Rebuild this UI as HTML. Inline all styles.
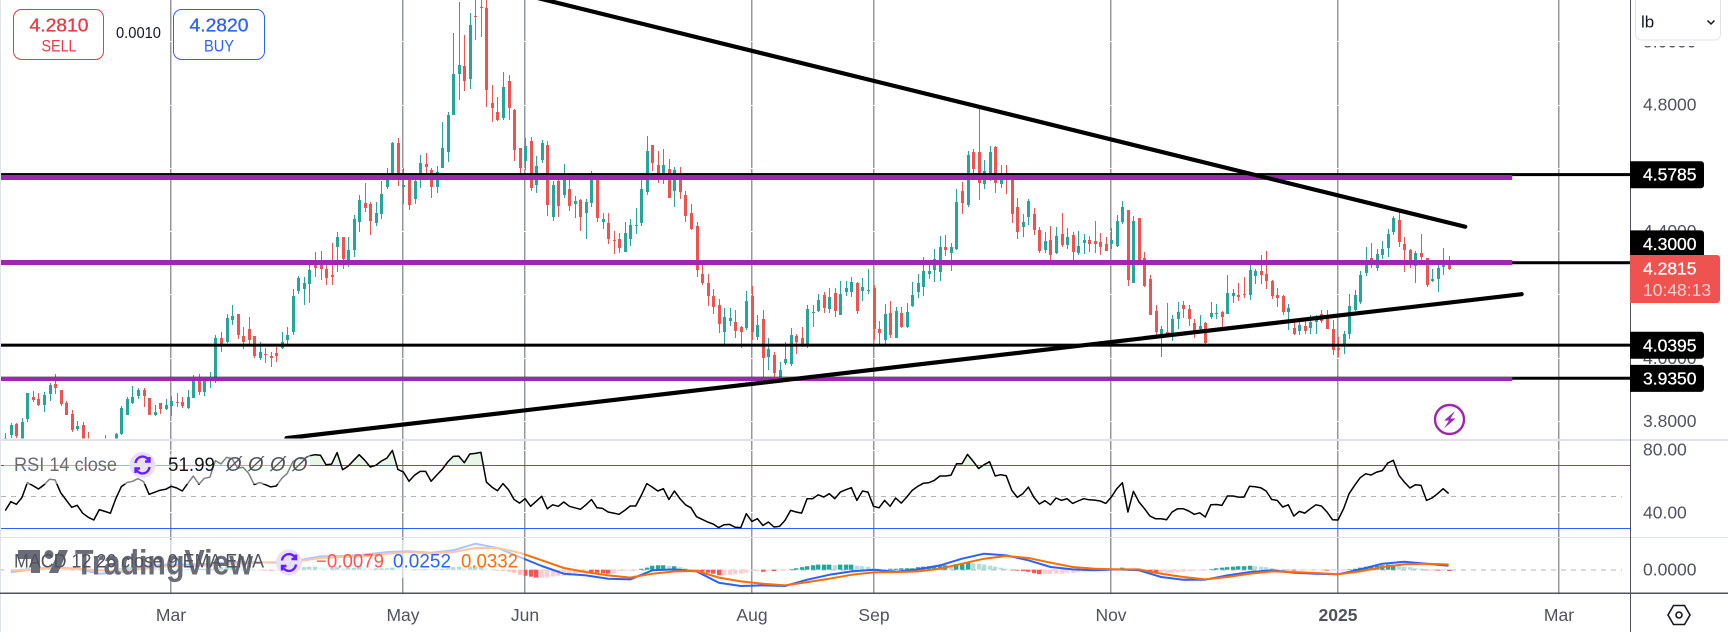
<!DOCTYPE html>
<html lang="en">
<head>
<meta charset="utf-8">
<title>Copper candlestick chart</title>
<style>
html,body{margin:0;padding:0;background:#fff;width:1728px;height:632px;overflow:hidden}
svg{display:block;font-family:"Liberation Sans",sans-serif}
text{white-space:pre}
</style>
</head>
<body>
<svg id="chart" xmlns="http://www.w3.org/2000/svg" width="1728" height="632" viewBox="0 0 1728 632">
  <defs>
    <clipPath id="price-clip"><rect x="1" y="0" width="1629" height="438.5"/></clipPath>
    <clipPath id="above-band"><rect x="1" y="441" width="1629" height="24.3"/></clipPath>
  </defs>
  <rect x="0" y="0" width="1728" height="632" fill="#fff"/>
  <g id="axis-labels-under"></g>
  <g id="vgrid"></g>
  <g id="hgrid"></g>
  <g id="candles" clip-path="url(#price-clip)"></g>
  <g id="levels" clip-path="url(#price-clip)"></g>
  <g id="trends" clip-path="url(#price-clip)"></g>
  <rect x="1" y="465" width="1629" height="1" fill="#2962ff"/>
  <rect x="1" y="528" width="1629" height="1" fill="#2962ff"/>
  <line x1="1" y1="496.5" x2="1622" y2="496.5" stroke="#b2b5be" stroke-width="1" stroke-dasharray="5 5"/>
  <line x1="1" y1="570" x2="1622" y2="570" stroke="#b2b5be" stroke-width="1" stroke-dasharray="5 5"/>
  <path id="rsi-fill" fill="#4caf50" fill-opacity="0.13" clip-path="url(#above-band)"/>
  <path id="rsi-line" fill="none" stroke="#000" stroke-width="1.5" stroke-linejoin="round"/>
  <g id="hist"></g>
  <path id="macd-line" fill="none" stroke="#2962ff" stroke-width="2" stroke-linejoin="round"/>
  <path id="signal-line" fill="none" stroke="#ff6d00" stroke-width="2" stroke-linejoin="round"/>

  <rect x="0" y="439" width="1728" height="2" fill="#e0e3eb"/>
  <rect x="0" y="537" width="1728" height="1" fill="#e0e3eb"/>
  <rect x="0" y="0" width="1" height="632" fill="#e0e3eb"/>

  <!-- RSI legend -->
  <rect x="4" y="454" width="306" height="30" fill="#fff" fill-opacity="0.5"/>
  <text x="14" y="465" font-size="19.5" fill="#6a6d78" dominant-baseline="central" textLength="103" lengthAdjust="spacingAndGlyphs">RSI 14 close</text>
  <circle cx="142.5" cy="465" r="13" fill="#e8e0fb"/>
  <g fill="none" stroke="#651fff" stroke-width="2.4">
    <path d="M135.5 463a7 7 0 0 1 13-3"/><path d="M149.5 467a7 7 0 0 1-13 3"/>
    <path d="M149.5 457v4.5h-4.5"/><path d="M135.5 473v-4.5h4.5"/>
  </g>
  <text x="168" y="465" font-size="19.5" fill="#131722" dominant-baseline="central" textLength="47" lengthAdjust="spacingAndGlyphs">51.99</text>
  <text x="226" y="465" font-size="20" font-style="italic" fill="#50535e" dominant-baseline="central">Ø</text>
  <text x="248" y="465" font-size="20" font-style="italic" fill="#50535e" dominant-baseline="central">Ø</text>
  <text x="270" y="465" font-size="20" font-style="italic" fill="#50535e" dominant-baseline="central">Ø</text>
  <text x="292" y="465" font-size="20" font-style="italic" fill="#50535e" dominant-baseline="central">Ø</text>

  <!-- Watermark + MACD legend -->
  <rect x="4" y="540" width="520" height="38" fill="#fff" fill-opacity="0.62"/>
  <g fill="#6a6d78">
    <path d="M18 550h22v23h-9v-14H18z"/><circle cx="49" cy="554.5" r="4.5"/><path d="M59 550h9l-10 23h-9z"/>
  </g>
  <text x="75" y="563" font-size="35" font-weight="bold" fill="#6a6d78" dominant-baseline="central" textLength="178" lengthAdjust="spacingAndGlyphs">TradingView</text>
  <text x="14" y="562" font-size="19" fill="#50535e" dominant-baseline="central" textLength="250" lengthAdjust="spacingAndGlyphs">MACD 12 26 close 9 EMA EMA</text>
  <circle cx="289" cy="562.5" r="13" fill="#e8e0fb"/>
  <g fill="none" stroke="#651fff" stroke-width="2.4">
    <path d="M282 560.5a7 7 0 0 1 13-3"/><path d="M296 564.5a7 7 0 0 1-13 3"/>
    <path d="M296 554.5v4.5h-4.5"/><path d="M282 570.5v-4.5h4.5"/>
  </g>
  <text x="316" y="562" font-size="19" fill="#ff5252" dominant-baseline="central" textLength="68" lengthAdjust="spacingAndGlyphs">−0.0079</text>
  <text x="393" y="562" font-size="19" fill="#2962ff" dominant-baseline="central" textLength="58" lengthAdjust="spacingAndGlyphs">0.0252</text>
  <text x="461" y="562" font-size="19" fill="#ff6d00" dominant-baseline="central" textLength="57" lengthAdjust="spacingAndGlyphs">0.0332</text>

  <!-- Sell / buy -->
  <rect x="13.5" y="9.5" width="90" height="50" rx="8" fill="#fff" stroke="#f23645" stroke-width="1"/>
  <text x="59" y="25.5" font-size="18" stroke="#f23645" stroke-width="0.3" fill="#f23645" text-anchor="middle" dominant-baseline="central" textLength="59" lengthAdjust="spacingAndGlyphs">4.2810</text>
  <text x="59" y="46" font-size="17" fill="#f23645" text-anchor="middle" dominant-baseline="central" textLength="35" lengthAdjust="spacingAndGlyphs">SELL</text>
  <text x="116" y="33.5" font-size="15.5" fill="#131722" dominant-baseline="central" textLength="45" lengthAdjust="spacingAndGlyphs">0.0010</text>
  <rect x="173.5" y="9.5" width="91" height="50" rx="8" fill="#fff" stroke="#2962ff" stroke-width="1"/>
  <text x="219" y="25.5" font-size="18" stroke="#2962ff" stroke-width="0.3" fill="#2962ff" text-anchor="middle" dominant-baseline="central" textLength="59" lengthAdjust="spacingAndGlyphs">4.2820</text>
  <text x="219" y="46" font-size="17" fill="#2962ff" text-anchor="middle" dominant-baseline="central" textLength="30" lengthAdjust="spacingAndGlyphs">BUY</text>

  <!-- Lightning badge -->
  <g>
    <circle cx="1449.5" cy="419.5" r="14.5" fill="#fff" stroke="#9c27b0" stroke-width="2.4"/>
    <path d="M1455 411l-11 9.5h5l-5 8 11.5-10h-5z" fill="#9c27b0"/>
  </g>

  <!-- Right axis furniture -->
  <rect x="1630" y="0" width="1" height="632" fill="#50535e"/>
  <rect x="0" y="592.5" width="1728" height="1.5" fill="#50535e"/>
  <g id="time-labels"></g>
  <g id="level-labels"></g>
  <g>
    <path d="M1630 255h87a3 3 0 0 1 3 3v42a3 3 0 0 1-3 3h-87z" fill="#ef5350"/>
    <text id="last-price" x="1643" y="268.5" font-size="17.5" stroke="#fff" stroke-width="0.3" fill="#fff" dominant-baseline="central"></text>
    <text x="1643" y="290" font-size="17.5" fill="#fff" fill-opacity="0.72" dominant-baseline="central">10:48:13</text>
  </g>
  <rect x="1632" y="0" width="96" height="46" fill="#fff"/>
  <g>
    <path d="M1635.5 0v34a6 6 0 0 0 6 6h73a6 6 0 0 0 6-6V0" fill="#fff" stroke="#e0e3eb"/>
    <text x="1641" y="22" font-size="17" fill="#131722" dominant-baseline="central">lb</text>
    <path d="M1707.5 20.5l3.5 3.5 3.5-3.5" fill="none" stroke="#131722" stroke-width="1.5"/>
  </g>
  <g fill="none" stroke="#131722" stroke-width="1.6">
    <path d="M1668 615l5.5-9.5h11l5.5 9.5-5.5 9.5h-11z"/>
    <circle cx="1679" cy="615" r="3"/>
  </g>
</svg>
<script>
// Candle values, in thousandths of a dollar per lb
const highs=[3762,3793,3793,3809,3888,3894,3888,3891,3920,3948,
3898,3863,3834,3800,3796,3765,3740,3733,3755,3740,
3762,3847,3875,3910,3904,3904,3872,3850,3857,3869,
3879,3888,3875,3898,3945,3948,3929,3954,4071,4081,
4138,4166,4138,4097,4128,4068,4049,4030,4018,4033,
4081,4097,4217,4258,4255,4293,4334,4337,4299,4362,
4397,4381,4381,4451,4514,4552,4492,4492,4558,4599,
4681,4694,4599,4577,4574,4640,4647,4599,4605,4744,
4776,5026,5124,5019,5089,5146,5146,5146,4861,4823,
4902,4893,4786,4662,4694,4697,4637,4688,4684,4558,
4561,4612,4561,4511,4501,4501,4590,4577,4457,4457,
4400,4394,4428,4438,4473,4561,4700,4672,4653,4659,
4628,4602,4602,4526,4485,4428,4293,4264,4217,4185,
4157,4157,4150,4100,4210,4226,4135,4150,4062,4018,
3986,4049,4094,4075,4097,4166,4166,4201,4207,4220,
4220,4242,4242,4255,4239,4252,4280,4229,4116,4169,
4179,4160,4160,4173,4239,4264,4318,4296,4343,4384,
4387,4362,4533,4555,4653,4659,4786,4624,4669,4669,
4609,4609,4561,4504,4454,4501,4473,4413,4397,4416,
4413,4457,4410,4397,4400,4391,4384,4432,4394,4381,
4410,4451,4495,4466,4447,4441,4334,4261,4166,4100,
4173,4135,4176,4179,4166,4122,4135,4112,4176,4169,
4147,4261,4217,4236,4255,4296,4280,4324,4337,4245,
4220,4198,4169,4112,4125,4125,4135,4135,4150,4150,
4119,4065,4084,4201,4214,4274,4349,4362,4343,4368,
4406,4447,4460,4381,4343,4337,4391,4315,4280,4296,
4346,4321];
const opens=[3724,3755,3790,3740,3806,3875,3869,3850,3885,3917,
3898,3857,3822,3774,3787,3740,3724,3686,3733,3702,
3724,3759,3819,3857,3879,3898,3872,3819,3857,3838,
3847,3860,3860,3841,3872,3929,3891,3929,3926,4062,
4049,4119,4138,4068,4090,4068,3999,4011,4005,4015,
4030,4056,4081,4210,4217,4233,4299,4299,4280,4261,
4349,4381,4293,4340,4428,4489,4485,4425,4454,4539,
4577,4678,4539,4561,4501,4577,4612,4593,4539,4599,
4650,4767,4896,4921,4880,5079,5108,5105,4805,4776,
4757,4874,4782,4662,4621,4684,4545,4624,4672,4444,
4558,4514,4533,4485,4498,4457,4489,4577,4428,4425,
4372,4375,4334,4375,4416,4425,4523,4672,4609,4580,
4596,4526,4561,4514,4457,4416,4264,4236,4195,4166,
4081,4116,4112,4097,4094,4195,4065,4122,4002,4008,
3936,3983,3980,4068,4062,4040,4141,4147,4198,4154,
4204,4135,4207,4207,4236,4210,4210,4220,4090,4056,
4141,4062,4141,4097,4163,4207,4223,4264,4277,4270,
4349,4331,4343,4526,4482,4650,4650,4549,4571,4665,
4549,4583,4561,4476,4413,4444,4454,4403,4340,4372,
4331,4391,4356,4387,4331,4362,4372,4368,4365,4359,
4359,4353,4428,4466,4236,4441,4315,4248,4147,4071,
4081,4075,4122,4166,4154,4109,4090,4109,4128,4138,
4144,4138,4195,4198,4201,4198,4258,4274,4264,4242,
4198,4195,4144,4094,4084,4100,4094,4112,4138,4131,
4090,4030,4043,4075,4150,4176,4267,4315,4283,4324,
4346,4397,4435,4359,4340,4289,4331,4315,4242,4248,
4286,4296];
const closes=[3746,3787,3752,3796,3888,3866,3850,3882,3913,3904,
3853,3819,3771,3784,3724,3714,3692,3717,3708,3730,
3759,3841,3869,3875,3898,3879,3819,3828,3838,3850,
3863,3857,3847,3875,3929,3891,3926,3939,4062,4043,
4125,4131,4071,4049,4056,4005,4018,4008,3999,4005,
4049,4071,4195,4252,4236,4277,4283,4280,4252,4255,
4381,4312,4340,4438,4498,4473,4432,4457,4517,4568,
4678,4561,4545,4482,4558,4615,4602,4539,4586,4662,
4767,4896,4925,4874,5051,5076,5105,4846,4789,4751,
4855,4789,4656,4599,4669,4536,4605,4678,4482,4545,
4479,4571,4479,4495,4444,4492,4577,4441,4438,4375,
4368,4346,4394,4419,4419,4533,4653,4615,4580,4609,
4504,4593,4523,4447,4406,4277,4236,4195,4160,4106,
4128,4125,4084,4081,4179,4081,4103,3999,4027,3951,
3961,3996,4071,4049,4043,4154,4144,4182,4157,4191,
4147,4201,4220,4239,4147,4223,4214,4090,4078,4138,
4071,4147,4097,4144,4198,4236,4274,4274,4312,4349,
4340,4349,4492,4489,4640,4596,4552,4590,4650,4552,
4580,4561,4454,4397,4428,4495,4403,4337,4368,4324,
4384,4356,4381,4334,4353,4372,4359,4359,4349,4337,
4372,4432,4476,4245,4432,4296,4226,4135,4081,4090,
4075,4122,4144,4154,4122,4084,4100,4046,4141,4141,
4128,4204,4204,4191,4198,4277,4274,4261,4242,4195,
4188,4144,4157,4075,4103,4084,4112,4119,4116,4090,
4024,4024,4075,4163,4198,4261,4296,4308,4327,4343,
4391,4441,4365,4340,4308,4331,4318,4229,4248,4283,
4296,4281.5];
const lows=[3708,3746,3746,3724,3796,3860,3847,3828,3863,3885,
3847,3819,3765,3768,3708,3692,3676,3670,3692,3689,
3714,3755,3819,3853,3869,3844,3819,3815,3822,3834,
3815,3844,3841,3838,3872,3882,3879,3904,3920,4018,
4046,4103,4059,4027,4043,3999,3992,3983,3970,3986,
4027,4040,4071,4201,4166,4173,4255,4245,4229,4229,
4270,4280,4286,4318,4397,4460,4387,4416,4438,4533,
4577,4542,4485,4466,4485,4536,4577,4504,4520,4599,
4618,4767,4814,4842,4849,5004,5013,4792,4744,4748,
4751,4751,4621,4577,4593,4526,4520,4615,4447,4432,
4444,4504,4463,4441,4400,4375,4476,4428,4406,4359,
4327,4331,4334,4353,4391,4416,4514,4590,4552,4549,
4504,4476,4501,4428,4403,4255,4229,4163,4138,4078,
4040,4100,4062,4030,4087,4056,4056,3936,3961,3936,
3936,3977,3973,4011,4033,4030,4097,4144,4141,4141,
4128,4135,4195,4192,4138,4179,4201,4056,4040,4040,
4062,4062,4094,4094,4160,4188,4195,4248,4239,4242,
4321,4274,4340,4454,4476,4583,4498,4533,4558,4520,
4536,4517,4425,4375,4381,4419,4387,4331,4331,4293,
4327,4349,4343,4308,4324,4327,4334,4331,4324,4337,
4343,4349,4422,4226,4236,4293,4223,4135,4068,4002,
4075,4052,4090,4125,4100,4062,4078,4043,4122,4122,
4094,4138,4173,4179,4188,4182,4233,4233,4217,4185,
4160,4135,4087,4071,4071,4075,4075,4075,4109,4090,
4008,4002,4011,4059,4147,4169,4258,4283,4274,4312,
4318,4387,4349,4270,4283,4236,4308,4223,4239,4207,
4261,4277];
// RSI per candle
const rsiValues=[41.1,46.8,45.1,49.4,59.0,57.0,54.9,57.5,61.1,60.7,
52.6,47.9,43.2,44.5,39.4,36.8,35.1,41.7,40.6,39.4,
48.9,56.4,59.0,59.8,61.5,59.6,51.5,52.8,54.1,54.7,
56.6,55.5,53.6,58.5,63.2,57.9,61.7,62.4,73.0,70.9,
75.1,74.3,68.3,68.7,64.9,57.7,59.0,57.7,56.2,56.8,
61.7,64.9,72.4,74.5,74.2,76.1,76.8,76.4,70.4,70.8,
78.1,67.2,69.5,73.2,76.8,73.2,68.9,70.0,72.7,74.6,
79.5,67.4,65.7,59.8,63.6,66.1,66.1,59.8,63.6,67.4,
72.1,75.7,75.9,71.7,77.2,77.6,78.3,59.3,56.1,53.8,
58.3,54.4,48.2,45.9,48.7,43.8,47.0,50.2,42.3,44.8,
43.8,46.6,43.8,42.9,41.9,44.8,48.2,42.9,42.5,40.2,
39.5,38.7,41.2,44,44,50.8,58.3,56.1,53.6,55.1,
48.2,53.6,48.7,44.8,42.9,37.2,35.5,33.8,32.5,30.2,
32.1,32.3,30.4,30.2,39.1,34.2,35.9,31.6,33.8,30.6,
31,34.8,41.2,40.2,39.5,48.7,48.7,51.2,49.7,51.9,
48.7,52.9,54.4,55.7,47.6,53.6,52.9,43.8,42.9,47.6,
43.8,49.1,45.9,49.7,54,56.6,58.5,58.9,60.4,63.2,
63.2,63.6,71,71,77,72.7,68,70.4,72.3,63.2,
64,63.4,54,49.5,51.9,56.1,49.5,45.3,47.4,44.8,
49.1,47.6,48.7,45.7,47.2,48.7,48,47.8,47.2,45.7,
49.7,55.1,58.9,40.2,53.4,46.6,42.3,37.6,35.9,35.9,
35.3,40.2,42.3,42.3,40.8,38.7,39.7,37,44.8,45,
44.4,50.4,50.4,49.7,49.7,56.6,56.3,55.7,53.6,48.2,
47.6,43.4,44.8,37.6,40.6,39.5,42.3,44.8,44,40.2,
35.3,35.1,42.3,51.9,57.2,62.1,64.6,63.8,65.7,66.6,
71.5,73.2,63.6,59.3,55.5,57.6,57.2,47.6,49.1,51.9,
55.1,51.99];
// MACD histogram per candle, thousandths
const histValues=[-3,-3,3,6,13,13,9,6,9,9,
6,-3,-6,-6,-9,-13,-13,-13,-9,-6,
3,9,16,19,19,16,9,6,6,3,
3,3,0,3,6,6,6,6,16,16,
22,22,19,16,9,3,-3,-6,-9,-9,
-6,-3,6,13,16,19,19,16,13,13,
16,13,13,13,16,13,9,9,9,9,
13,9,6,3,3,3,3,0,3,6,
9,16,19,16,19,19,22,13,6,-6,
-9,-13,-19,-32,-38,-44,-50,-50,-50,-44,
-38,-38,-38,-25,-22,-13,-16,-19,-22,-25,
-25,-9,-6,-6,-3,6,13,25,28,28,
22,22,16,9,-3,-9,-13,-19,-25,-35,
-35,-32,-28,-25,-19,-9,-9,-13,-6,-9,
-3,-3,3,9,16,22,28,32,32,32,
28,32,32,32,25,22,19,9,6,3,
6,6,9,9,9,16,19,22,25,28,
28,25,35,38,44,41,38,32,25,19,
13,6,-3,-6,-9,-13,-22,-28,-28,-28,
-25,-25,-19,-19,-16,-13,-13,-9,-9,-6,
3,6,13,6,6,-3,-13,-19,-25,-25,
-22,-19,-16,-13,-9,-6,-6,-3,3,9,
13,16,19,22,22,25,22,19,16,9,
6,3,-3,-6,-6,-6,-3,-3,-3,-6,
-6,-6,-3,3,6,13,19,22,25,28,
32,32,25,19,16,9,6,-3,-3,-6,
-6,-8];
// MACD and signal, thousandths, read every 4th candle starting at candle 1
const macdValues=[-15,2,17,6,-25,-15,23,32,32,38,48,48,44,59,84,86,95,111,116,107,122,164,137,80,23,-25,
-36,-57,-61,-4,2,-11,-82,-103,-99,-103,-63,-32,-11,0,-13,2,27,69,101,90,59,17,2,-4,2,-4,
-46,-63,-63,-36,-15,-4,-19,-25,-29,2,38,50,38,25];
const signalValues=[-4,0,11,6,-4,-11,6,21,23,27,36,44,48,53,74,80,84,101,111,103,111,137,137,107,59,11,
-15,-36,-50,-25,-11,-8,-50,-74,-88,-99,-78,-57,-32,-17,-15,-11,6,38,69,86,74,44,17,6,2,2,
-25,-46,-61,-46,-25,-11,-15,-21,-29,-11,17,34,38,33];
const macdStride=4;
// Axis labels
const timeLabels=["Mar","May","Jun","Aug","Sep","Nov","2025","Mar"];
const timeCandles=[30,72,94,135,157,200,241,281];
const priceTicks=[5000,4800,4600,4400,4200,4000,3800];
const rsiTicks=[80,40];
const macdTicks=[0];
// Drawn levels and trend lines: prices in thousandths
const levelPrices=[4578.5,4300,4039.5,3935];
const levelLabelShift=[0,-19,0,0];
const purpleLevels=[4569,4302,3934];
const purpleEndCandle=272.5;
const trendCandles=[[96,264],[50.85,274.2]];
const trendPrices=[[5138,4414],[3746,4201]];

const SVG='http://www.w3.org/2000/svg';
function xOf(i){return 5.3+5.53*i;}
function priceY(v){return 104.6+(4800-v)/3.16;}
function rsiY(v){return 512.3-(v-40)*1.566;}
function macdY(v){return 569.7-v/6.3;}
function mk(parent,tag,attrs){
  const e=document.createElementNS(SVG,tag);
  for(const k in attrs)e.setAttribute(k,attrs[k]);
  parent.appendChild(e);
  return e;
}
const $=id=>document.getElementById(id);

// vertical grid + time labels
timeCandles.forEach((c,k)=>{
  const x=Math.round(xOf(c));
  const l=mk($('vgrid'),'rect',{x:x-1,y:0,width:1.5,height:593,fill:'#9598a1'});
  
  
  const t=mk($('time-labels'),'text',{x:x,y:615,'font-size':17.5,fill:'#50535e','text-anchor':'middle','dominant-baseline':'central'});
  if(timeLabels[k]==='2025')t.setAttribute('font-weight','bold');
  t.textContent=timeLabels[k];
  
  
});
// horizontal grid (white ticks across the vertical lines) + axis labels
function gridLine(y){
  const g=mk($('hgrid'),'rect',{x:1,y:Math.round(y),width:1629,height:1,fill:'#fff'});
  
  
}
function axisLabel(y,str){
  const t=mk($('axis-labels-under'),'text',{x:1643,y:y,'font-size':17.5,fill:'#50535e','dominant-baseline':'central'});
  t.textContent=str;
  
  
}
priceTicks.forEach(v=>{gridLine(priceY(v));axisLabel(priceY(v),(v/1000).toFixed(4));});
rsiTicks.forEach(v=>{gridLine(rsiY(v));axisLabel(rsiY(v),v.toFixed(2));});
macdTicks.forEach(v=>{axisLabel(macdY(v),(v/1000).toFixed(4));});

// candles
highs.forEach((h,i)=>{
  const o=opens[i],c=closes[i],l=lows[i];
  const up=c>=o,col=up?'#26a69a':'#ef5350';
  const x=Math.round(xOf(i));
  const g=mk($('candles'),'g',{fill:col});
  
  
  const yh=Math.round(priceY(h)),yl=Math.round(priceY(l));
  const yt=Math.round(priceY(Math.max(o,c))),yb=Math.round(priceY(Math.min(o,c)));
  mk(g,'rect',{x:x,y:yh,width:1,height:Math.max(yl-yh,1)});
  mk(g,'rect',{x:x-1,y:yt,width:3,height:Math.max(yb-yt,1)});
});

// level lines
levelPrices.forEach((v,i)=>{
  const y=priceY(v);
  const l=mk($('levels'),'rect',{x:1,y:y-1.6,width:1629,height:3,fill:'#000'});
  
  
});
purpleLevels.forEach(v=>{
  const y=priceY(v);
  const w=v<4000?4:5;
  const l=mk($('levels'),'rect',{x:1,y:Math.round(y-w/2),width:xOf(purpleEndCandle)-1,height:w,fill:'#9c27b0'});
  
  
});
// trend lines
trendCandles.forEach((c,k)=>{
  const p=trendPrices[k];
  const l=mk($('trends'),'line',{x1:xOf(c[0]),y1:priceY(p[0]),x2:xOf(c[1]),y2:priceY(p[1]),stroke:'#000','stroke-width':4.2,'stroke-linecap':'round'});
  
  
});
// level price labels
levelPrices.forEach((v,i)=>{
  const cy=priceY(v)+levelLabelShift[i];
  const g=$('level-labels');
  const r=mk(g,'path',{d:'M1630 '+(cy-13.5)+'h71a3 3 0 0 1 3 3v21a3 3 0 0 1-3 3h-71z',fill:'#000'});
  
  
  const t=mk(g,'text',{x:1643,y:cy,'font-size':17.5,stroke:'#fff','stroke-width':0.3,fill:'#fff','dominant-baseline':'central'});
  t.textContent=(v/1000).toFixed(4);
  
  
});
$('last-price').textContent=(closes[closes.length-1]/1000).toFixed(4);

// RSI
let rsiD='';
rsiValues.forEach((v,i)=>{rsiD+=(i?'L':'M')+xOf(i).toFixed(1)+' '+rsiY(v).toFixed(1);});
$('rsi-line').setAttribute('d',rsiD);
$('rsi-fill').setAttribute('d',rsiD+'L'+xOf(rsiValues.length-1)+' 465.3L'+xOf(0)+' 465.3Z');

// MACD histogram
histValues.forEach((v,i)=>{
  const prev=i?histValues[i-1]:v;
  let col;
  if(v>=0)col=v>=prev?'#26a69a':'#b2dfdb';
  else col=v<prev?'#ff5252':'#ffcdd2';
  const y0=macdY(0),y1=macdY(v);
  const b=mk($('hist'),'rect',{x:Math.round(xOf(i))-2,y:Math.min(y0,y1),width:4.4,height:Math.max(Math.abs(y1-y0),0.6),fill:col});
  
  
});
// MACD lines
function sparsePath(vals){
  let d='';
  vals.forEach((v,k)=>{d+=(k?'L':'M')+xOf(1+k*macdStride).toFixed(1)+' '+macdY(v).toFixed(1);});
  return d;
}
$('macd-line').setAttribute('d',sparsePath(macdValues));
$('signal-line').setAttribute('d',sparsePath(signalValues));
</script>
</body>
</html>
